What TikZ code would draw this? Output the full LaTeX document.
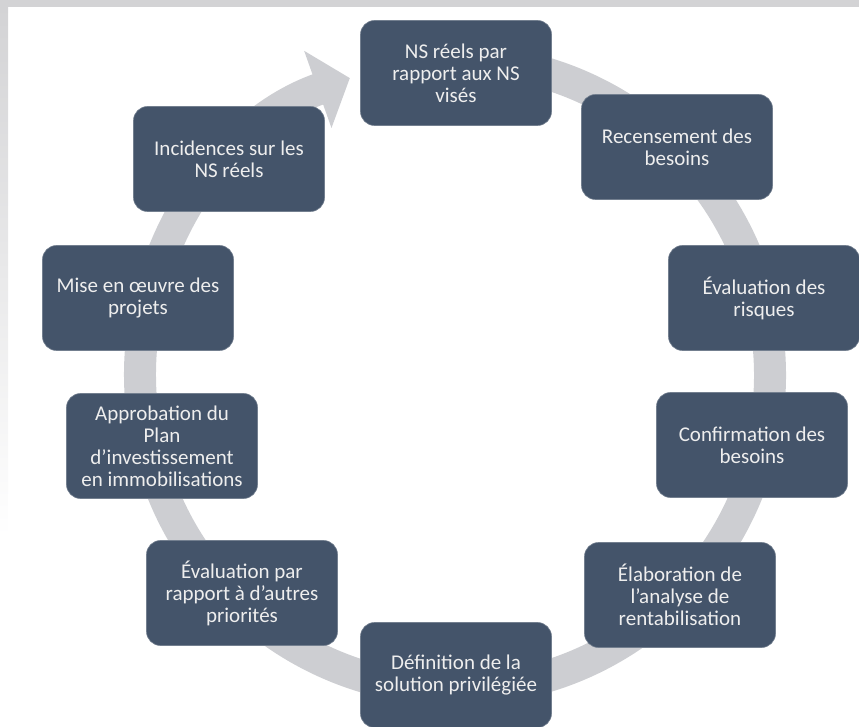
\documentclass[tikz,border=0pt]{standalone}
\usepackage{fontspec}
\setmainfont{Carlito}
\usetikzlibrary{arrows.meta}
\definecolor{boxblue}{HTML}{44546A}
\definecolor{boxtext}{HTML}{EEEEEE}
\definecolor{ringgray}{HTML}{CDCED2}
\definecolor{framegray}{HTML}{D3D3D5}
\tikzstyle{stage} = [rectangle, rounded corners=14pt, fill=boxblue, draw=boxblue!75!white, line width=0.6pt, minimum width=191pt, minimum height=105pt, inner sep=0pt, text=boxtext, align=center, font=\fontsize{21}{22}\selectfont]
\tikzstyle{ring} = [line width=32pt, draw=ringgray, -{Triangle[length=34pt, width=80pt]}]

\begin{document}
\begin{tikzpicture}[x=1pt, y=1pt]
  \useasboundingbox (0,0) rectangle (859,726);
  \fill[framegray] (0,719) rectangle (859,726);
  \shade[top color=framegray, bottom color=white] (0,190) rectangle (8,719);

  % the big loop behind the boxes
  \coordinate (hub) at (455,351);
  \draw[ring] (hub) ++(95:315) arc[start angle=95, end angle=-250.5, radius=315];

  \node (ns_vises) [stage] at (456,653) {NS réels par\\rapport aux NS\\visés};
  \node (recensement) [stage] at (677,579) {Recensement des\\besoins};
  \node (risques) [stage] at (764,428) {Évaluation des\\risques};
  \node (confirmation) [stage] at (752,281) {Confirmation des\\besoins};
  \node (rentabilite) [stage] at (680,131) {Élaboration de\\l’analyse de\\rentabilisation};
  \node (solution) [stage] at (456,51) {Définition de la\\solution privilégiée};
  \node (priorites) [stage] at (242,133) {Évaluation par\\rapport à d’autres\\priorités};
  \node (approbation) [stage] at (162,280) {Approbation du\\Plan\\d’investissement\\en immobilisations};
  \node (projets) [stage] at (138,428) {Mise en œuvre des\\projets};
  \node (incidences) [stage] at (229,567) {Incidences sur les\\NS réels};
\end{tikzpicture}
\end{document}
